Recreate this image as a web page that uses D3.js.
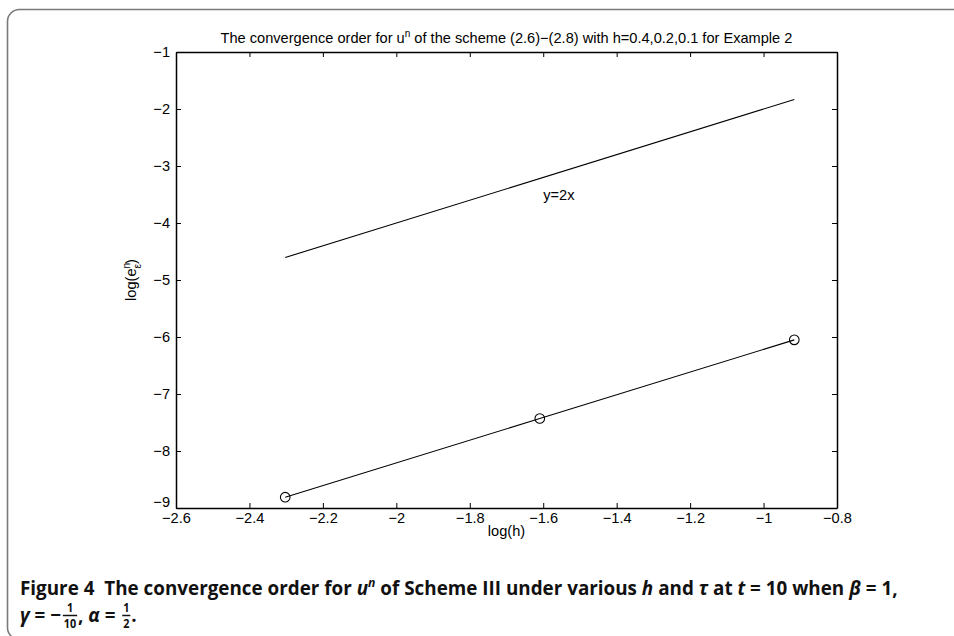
<!DOCTYPE html>
<html>
<head>
<meta charset="utf-8">
<script src="https://cdn.jsdelivr.net/npm/d3@7"></script>
<style>
  html, body { margin: 0; padding: 0; background: #fff; }
  svg { display: block; }
</style>
</head>
<body>
<svg id="chart" width="954" height="636"></svg>
<script>
// Tick values
const xTicks = [-2.6, -2.4, -2.2, -2, -1.8, -1.6, -1.4, -1.2, -1, -0.8];
const yTicks = [-1, -2, -3, -4, -5, -6, -7, -8, -9];

// Computed error: log(h) vs log(e)
const logH = [-2.3026, -1.6094, -0.9163];
const logErr = [-8.81, -7.43, -6.05];

// Reference slope line y = 2x
const refX = [-2.3026, -0.9163];
const refY = [-4.6052, -1.8326];

const svg = d3.select("#chart");
const font = '"Liberation Sans", Arial, sans-serif';
const fs = 14.6;

// Panel frame with rounded corners
svg.append("rect")
  .attr("x", 7.5).attr("y", 9.5)
  .attr("width", 1000).attr("height", 630)
  .attr("rx", 12).attr("ry", 12)
  .attr("fill", "none").attr("stroke", "#7a7a7a").attr("stroke-width", 1.6);

const x = d3.scaleLinear().domain([-2.6, -0.8]).range([176, 837]);
const y = d3.scaleLinear().domain([-9, -1]).range([508, 52]);
const fmt = d => d3.format("~g")(d);

// Axes (ticks pointing inward, box on all four sides)
const gx = svg.append("g").attr("transform", `translate(0,${y(-9)})`)
  .call(d3.axisBottom(x).tickValues(xTicks).tickFormat(fmt).tickSizeInner(-5).tickSizeOuter(0).tickPadding(5));
const gxTop = svg.append("g").attr("transform", `translate(0,${y(-1)})`)
  .call(d3.axisTop(x).tickValues(xTicks).tickFormat("").tickSizeInner(-5).tickSizeOuter(0));
const gy = svg.append("g").attr("transform", `translate(${x(-2.6)},0)`)
  .call(d3.axisLeft(y).tickValues(yTicks).tickFormat(fmt).tickSizeInner(-5).tickSizeOuter(0).tickPadding(6));
const gyR = svg.append("g").attr("transform", `translate(${x(-0.8)},0)`)
  .call(d3.axisRight(y).tickValues(yTicks).tickFormat("").tickSizeInner(-5).tickSizeOuter(0));

[gx, gxTop, gy, gyR].forEach(g => {
  g.attr("font-family", font).attr("font-size", fs);
  g.select(".domain").attr("stroke", "#000").attr("stroke-width", 1.5);
  g.selectAll(".tick line").attr("stroke", "#000").attr("stroke-width", 1);
  g.selectAll(".tick text").attr("fill", "#000").attr("font-size", fs).attr("font-family", font);
});
// -9 label sits a little above the x tick labels
gy.selectAll(".tick text").filter(d => d === -9).attr("dy", "-0.1em");

const line = d3.line().x(d => x(d[0])).y(d => y(d[1]));

// Reference line
svg.append("path")
  .datum(refX.map((v, i) => [v, refY[i]]))
  .attr("d", line).attr("fill", "none").attr("stroke", "#000").attr("stroke-width", 1.1);

// Error line with circle markers
const pts = logH.map((v, i) => [v, logErr[i]]);
svg.append("path").datum(pts)
  .attr("d", line).attr("fill", "none").attr("stroke", "#000").attr("stroke-width", 1.1);
svg.selectAll("circle.m").data(pts).enter().append("circle")
  .attr("class", "m")
  .attr("cx", d => x(d[0])).attr("cy", d => y(d[1])).attr("r", 4.8)
  .attr("fill", "none").attr("stroke", "#000").attr("stroke-width", 1.1);

// Slope annotation
svg.append("text")
  .attr("x", x(-1.6)).attr("y", y(-3.5)).attr("dy", "0.35em")
  .attr("font-family", font).attr("font-size", fs)
  .text("y=2x");

// Title
const title = svg.append("text")
  .attr("x", (x(-2.6) + x(-0.8)) / 2).attr("y", 43)
  .attr("text-anchor", "middle")
  .attr("font-family", font).attr("font-size", fs);
title.append("tspan").text("The convergence order for u");
title.append("tspan").attr("font-size", 10).attr("dy", -6).text("n");
title.append("tspan").attr("dy", 6).text("\u00a0of the scheme (2.6)\u2212(2.8) with h=0.4,0.2,0.1 for Example 2");

// Axis labels
svg.append("text")
  .attr("x", (x(-2.6) + x(-0.8)) / 2).attr("y", 536)
  .attr("text-anchor", "middle")
  .attr("font-family", font).attr("font-size", fs)
  .text("log(h)");

const yl = svg.append("text")
  .attr("transform", `translate(136,280) rotate(-90)`)
  .attr("text-anchor", "middle")
  .attr("font-family", font).attr("font-size", fs);
yl.append("tspan").text("log(e");
yl.append("tspan").attr("font-size", 10).attr("dy", -6).text("n");
yl.append("tspan").attr("font-size", 10).attr("dx", -5.5).attr("dy", 11).text("\u03b5");
yl.append("tspan").attr("dy", -5).text(")");

// Caption
const capFont = '"Open Sans", "Noto Sans", sans-serif';
const NB = "\u00a0";
const cap = svg.append("g");
const line1 = cap.append("text")
  .attr("x", 0).attr("y", 0)
  .attr("font-family", capFont).attr("font-size", 20).attr("font-weight", 700).attr("fill", "#111");
function t1(str, italic) {
  return line1.append("tspan").attr("font-style", italic ? "italic" : "normal").text(str.replace(/ /g, NB));
}
t1("Figure 4  The convergence order for ", false);
t1("u", true);
line1.append("tspan").attr("font-style", "italic").attr("font-size", 13).attr("dy", -8).text("n");
t1(" of Scheme III under various ", false).attr("dy", 8);
t1("h", true);
t1(" and ", false);
t1("\u03c4", true);
t1(" at ", false);
t1("t", true);
t1(" = 10 when ", false);
t1("\u03b2", true);
t1(" = 1,", false);

const w1 = line1.node().getComputedTextLength();
const s = 878 / w1;
cap.attr("transform", `translate(20,595) scale(${s},1)`);

// Second caption line, built piece by piece so fractions can be stacked
const g2 = cap.append("g").attr("transform", "translate(0,27)");
let cx = 0;
function piece(str, italic) {
  const t = g2.append("text").attr("x", cx).attr("y", 0)
    .attr("font-family", capFont).attr("font-size", 20).attr("font-weight", 700)
    .attr("font-style", italic ? "italic" : "normal").attr("fill", "#111")
    .text(str.replace(/ /g, NB));
  cx += t.node().getComputedTextLength();
}
function frac(num, den) {
  const ffs = 11.5;
  const tn = g2.append("text").attr("y", -10).attr("text-anchor", "middle")
    .attr("font-family", capFont).attr("font-size", ffs).attr("font-weight", 700).attr("fill", "#111").text(num);
  const td = g2.append("text").attr("y", 6).attr("text-anchor", "middle")
    .attr("font-family", capFont).attr("font-size", ffs).attr("font-weight", 700).attr("fill", "#111").text(den);
  const w = Math.max(tn.node().getComputedTextLength(), td.node().getComputedTextLength()) + 2;
  const mid = cx + w / 2 + 2;
  tn.attr("x", mid); td.attr("x", mid);
  g2.append("line").attr("x1", cx + 2).attr("x2", cx + w + 2).attr("y1", -6.5).attr("y2", -6.5)
    .attr("stroke", "#111").attr("stroke-width", 1.5);
  cx += w + 3;
}
piece("\u03b3", true);
piece(" = \u2212", false);
frac("1", "10");
piece(", ", false);
piece("\u03b1", true);
piece(" = ", false);
frac("1", "2");
piece(".", false);
</script>
</body>
</html>
